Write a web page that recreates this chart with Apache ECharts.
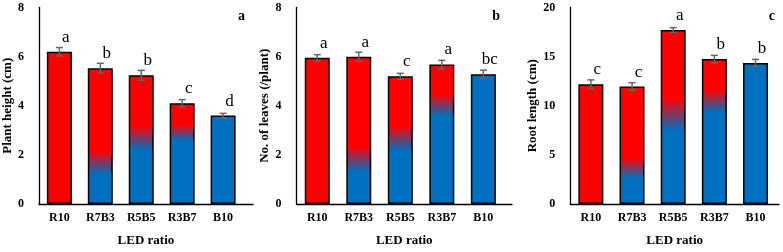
<!DOCTYPE html>
<html>
<head>
<meta charset="utf-8">
<script src="https://cdn.jsdelivr.net/npm/echarts@6/dist/echarts.min.js"></script>
<style>
  html, body { margin: 0; padding: 0; background: #fff; }
  #main { width: 783px; height: 252px; }
</style>
</head>
<body>
<div id="main"></div>
<script>
// LED treatments
var categories = ['R10', 'R7B3', 'R5B5', 'R3B7', 'B10'];

// a: plant height (cm)
var heightMean = [6.2, 5.53, 5.24, 4.1, 3.6];
var heightErr = [0.17, 0.2, 0.2, 0.15, 0.09];
var heightLetters = ['a', 'b', 'b', 'c', 'd'];

// b: number of leaves per plant
var leavesMean = [5.95, 6.0, 5.2, 5.68, 5.28];
var leavesErr = [0.13, 0.18, 0.12, 0.17, 0.17];
var leavesLetters = ['a', 'a', 'c', 'a', 'bc'];

// c: root length (cm)
var rootMean = [12.2, 11.95, 17.7, 14.75, 14.35];
var rootErr = [0.43, 0.4, 0.25, 0.38, 0.37];
var rootLetters = ['c', 'c', 'a', 'b', 'b'];

// share of bar height that is pure blue / where pure red starts (fill blend)
var blueTo = [0, 0.22, 0.42, 0.63, 1];
var redFrom = [0, 0.39, 0.61, 0.79, 1];

var RED = '#ff0000';
var BLUE = '#0070c0';
var FONT = 'Liberation Serif';

function barFill(i) {
  if (blueTo[i] >= 1) return BLUE;
  if (redFrom[i] <= 0) return RED;
  // gradient runs top (0) to bottom (1)
  return new echarts.graphic.LinearGradient(0, 0, 0, 1, [
    { offset: 0, color: RED },
    { offset: 1 - redFrom[i], color: RED },
    { offset: 1 - blueTo[i], color: BLUE },
    { offset: 1, color: BLUE }
  ]);
}

var panels = [
  { mean: heightMean, err: heightErr, letters: heightLetters, name: 'Plant height (cm)', tag: 'a',
    left: 38, width: 215, xmax: 4.73, ymax: 8, step: 2, nameGap: 23 },
  { mean: leavesMean, err: leavesErr, letters: leavesLetters, name: 'No. of leaves (/plant)', tag: 'b',
    left: 296.5, width: 215.5, xmax: 4.69, ymax: 8, step: 2, nameGap: 23 },
  { mean: rootMean, err: rootErr, letters: rootLetters, name: 'Root length (cm)', tag: 'c',
    left: 570.3, width: 208.7, xmax: 4.57, ymax: 20, step: 5, nameGap: 30 }
];

var grid = [], xAxis = [], yAxis = [], series = [], title = [];

panels.forEach(function (p, k) {
  grid.push({ left: p.left, top: 7.5, width: p.width, height: 200.5 });

  xAxis.push({
    type: 'value', gridIndex: k, min: -0.5, max: p.xmax, interval: 0.5,
    name: 'LED ratio', nameLocation: 'middle', nameGap: 30,
    nameTextStyle: { fontFamily: FONT, fontWeight: 'bold', fontSize: 13, color: '#000' },
    axisLine: { onZero: false, lineStyle: { color: '#000', width: 1.3 } },
    axisTick: { show: false },
    splitLine: { show: false },
    axisLabel: {
      fontFamily: FONT, fontWeight: 'bold', fontSize: 12, color: '#000', margin: 8,
      showMinLabel: true, showMaxLabel: false,
      formatter: function (v) {
        return (Number.isInteger(v) && v >= 0 && v < categories.length) ? categories[v] : '';
      }
    }
  });

  yAxis.push({
    type: 'value', gridIndex: k, min: 0, max: p.ymax, interval: p.step,
    name: p.name, nameLocation: 'middle', nameGap: p.nameGap,
    nameTextStyle: { fontFamily: FONT, fontWeight: 'bold', fontSize: 13, color: '#000' },
    axisLine: { show: true, onZero: false, lineStyle: { color: '#000', width: 1.3 } },
    axisTick: { show: false },
    splitLine: { show: false },
    axisLabel: { fontFamily: FONT, fontWeight: 'bold', fontSize: 12, color: '#000', margin: 15 }
  });

  series.push({
    type: 'bar', xAxisIndex: k, yAxisIndex: k, barWidth: 25,
    data: p.mean.map(function (v, i) {
      return {
        value: [i, v],
        itemStyle: { color: barFill(i) },
        label: { formatter: p.letters[i] }
      };
    }),
    itemStyle: { borderColor: '#000', borderWidth: 1.5 },
    label: {
      show: true, position: 'top', distance: 6, offset: [6.5, 0],
      fontFamily: FONT, fontSize: 17, color: '#000'
    },
    silent: true
  });

  series.push({
    type: 'custom', xAxisIndex: k, yAxisIndex: k, z: 5, silent: true,
    data: p.mean.map(function (v, i) { return [i, v - p.err[i], v + p.err[i]]; }),
    renderItem: function (params, api) {
      var lo = api.coord([api.value(0), api.value(1)]);
      var hi = api.coord([api.value(0), api.value(2)]);
      var hw = 3.5;
      var st = { stroke: '#666', lineWidth: 1.5 };
      return {
        type: 'group',
        children: [
          { type: 'line', shape: { x1: lo[0], y1: lo[1], x2: hi[0], y2: hi[1] }, style: st },
          { type: 'line', shape: { x1: lo[0] - hw, y1: lo[1], x2: lo[0] + hw, y2: lo[1] }, style: st },
          { type: 'line', shape: { x1: hi[0] - hw, y1: hi[1], x2: hi[0] + hw, y2: hi[1] }, style: st }
        ]
      };
    }
  });

  title.push({
    text: p.tag, right: k === 0 ? 783 - 250 : (k === 1 ? 783 - 505 : 3), top: 4,
    textStyle: { fontFamily: FONT, fontWeight: 'bold', fontSize: 14, color: '#000' }
  });
});

var myChart = echarts.init(document.getElementById('main'));
myChart.setOption({
  animation: false,
  title: title,
  grid: grid,
  xAxis: xAxis,
  yAxis: yAxis,
  series: series
});
</script>
</body>
</html>
